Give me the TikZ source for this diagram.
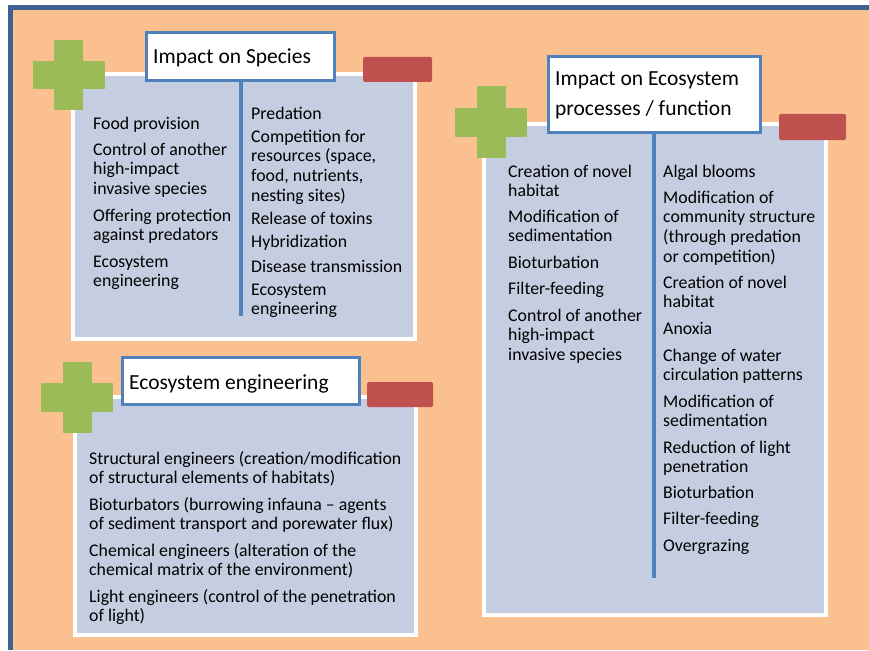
\documentclass[tikz,border=0pt]{standalone}
\usepackage{fontspec}
\setmainfont{Carlito}
\definecolor{bgorange}{RGB}{250,192,143}
\definecolor{frameblue}{RGB}{62,98,148}
\definecolor{panelfill}{RGB}{196,206,224}
\definecolor{titleblue}{RGB}{79,129,189}
\definecolor{plusgreen}{RGB}{155,187,89}
\definecolor{minusred}{RGB}{192,80,77}
\newcommand{\itm}[1]{\begin{tabular}[t]{@{}l@{}}#1\end{tabular}}
\begin{document}
\begin{tikzpicture}[x=1pt,y=-1pt,
  panel/.style={fill=panelfill,draw=white,line width=4pt},
  titlebox/.style={fill=white,draw=titleblue,line width=3pt},
  plusbar/.style={fill=plusgreen,draw=none},
  minusbar/.style={fill=minusred,draw=none,rounded corners=1.5pt},
  divider/.style={draw=titleblue,line width=3.5pt},
  titletext/.style={anchor=base west,inner sep=0pt,font=\fontsize{21.5}{29}\selectfont},
  itemtext/.style={anchor=base west,inner sep=0pt,font=\fontsize{17.8}{19.7}\selectfont},
]
\useasboundingbox (0,0) rectangle (869,650);
% frame
\fill[white] (0,0) rectangle (869,650);
\fill[bgorange] (13,10) rectangle (869,650);
\fill[frameblue] (8,5) rectangle (869,10);
\fill[frameblue] (8,5) rectangle (13,650);

% ---------- Impact on Species ----------
\draw[panel] (73,74) rectangle (415,339);
\fill[plusbar] (54,40) rectangle (83,110);
\fill[plusbar] (33,61) rectangle (105,89);
\fill[minusbar] (363,57) rectangle (432,82);
\coordinate (sA) at (241,80);
\coordinate (sB) at (241,316);
\draw[divider] (sA) -- (sB);
\draw[titlebox] (146.5,32.5) rectangle (334.5,80.5);
\node[titletext] (st) at (153,63.5) {Impact on Species};
\node[itemtext] (s1) at (93,129) {\itm{Food provision}};
\node[itemtext] (s2) at (93,155) {\itm{Control of another\\high-impact\\invasive species}};
\node[itemtext] (s3) at (93,221) {\itm{Offering protection\\against predators}};
\node[itemtext] (s4) at (93,267) {\itm{Ecosystem\\engineering}};
\node[itemtext] (s5) at (251,119) {\itm{Predation}};
\node[itemtext] (s6) at (251,142) {\itm{Competition for\\resources (space,\\food, nutrients,\\nesting sites)}};
\node[itemtext] (s7) at (251,224) {\itm{Release of toxins}};
\node[itemtext] (s8) at (251,247) {\itm{Hybridization}};
\node[itemtext] (s9) at (251,272) {\itm{Disease transmission}};
\node[itemtext] (s10) at (251,295) {\itm{Ecosystem\\engineering}};

% ---------- Impact on Ecosystem processes ----------
\draw[panel] (484,124) rectangle (826,615);
\fill[plusbar] (477,86) rectangle (506,158);
\fill[plusbar] (455,108) rectangle (527,137);
\fill[minusbar] (779,114) rectangle (846,140);
\coordinate (eA) at (654,132);
\coordinate (eB) at (654,578);
\draw[divider] (eA) -- (eB);
\draw[titlebox] (548.5,56.5) rectangle (760.5,132.5);
\node[titletext] (et) at (555,86) {\itm{Impact on Ecosystem\\processes / function}};
\node[itemtext] (e1) at (508,177) {\itm{Creation of novel\\habitat}};
\node[itemtext] (e2) at (508,222) {\itm{Modification of\\sedimentation}};
\node[itemtext] (e3) at (508,268) {\itm{Bioturbation}};
\node[itemtext] (e4) at (508,294) {\itm{Filter-feeding}};
\node[itemtext] (e5) at (508,321) {\itm{Control of another\\high-impact\\invasive species}};
\node[itemtext] (e6) at (663,177) {\itm{Algal blooms}};
\node[itemtext] (e7) at (663,203) {\itm{Modification of\\community structure\\(through predation\\or competition)}};
\node[itemtext] (e8) at (663,288) {\itm{Creation of novel\\habitat}};
\node[itemtext] (e9) at (663,334) {\itm{Anoxia}};
\node[itemtext] (e10) at (663,361) {\itm{Change of water\\circulation patterns}};
\node[itemtext] (e11) at (663,407) {\itm{Modification of\\sedimentation}};
\node[itemtext] (e12) at (663,453) {\itm{Reduction of light\\penetration}};
\node[itemtext] (e13) at (663,498) {\itm{Bioturbation}};
\node[itemtext] (e14) at (663,524) {\itm{Filter-feeding}};
\node[itemtext] (e15) at (663,551) {\itm{Overgrazing}};

% ---------- Ecosystem engineering ----------
\draw[panel] (75,397) rectangle (416,635);
\fill[plusbar] (63,362) rectangle (92,433);
\fill[plusbar] (41,383) rectangle (113,412);
\fill[minusbar] (367,382) rectangle (433,407);
\draw[titlebox] (122.5,357.5) rectangle (359.5,404.5);
\node[titletext] (gt) at (129,389) {Ecosystem engineering};
\node[itemtext] (g1) at (89,464) {\itm{Structural engineers (creation/modification\\of structural elements of habitats)}};
\node[itemtext] (g2) at (89,510) {\itm{Bioturbators (burrowing infauna – agents\\of sediment transport and porewater flux)}};
\node[itemtext] (g3) at (89,556) {\itm{Chemical engineers (alteration of the\\chemical matrix of the environment)}};
\node[itemtext] (g4) at (89,602) {\itm{Light engineers (control of the penetration\\of light)}};
\end{tikzpicture}
\end{document}
